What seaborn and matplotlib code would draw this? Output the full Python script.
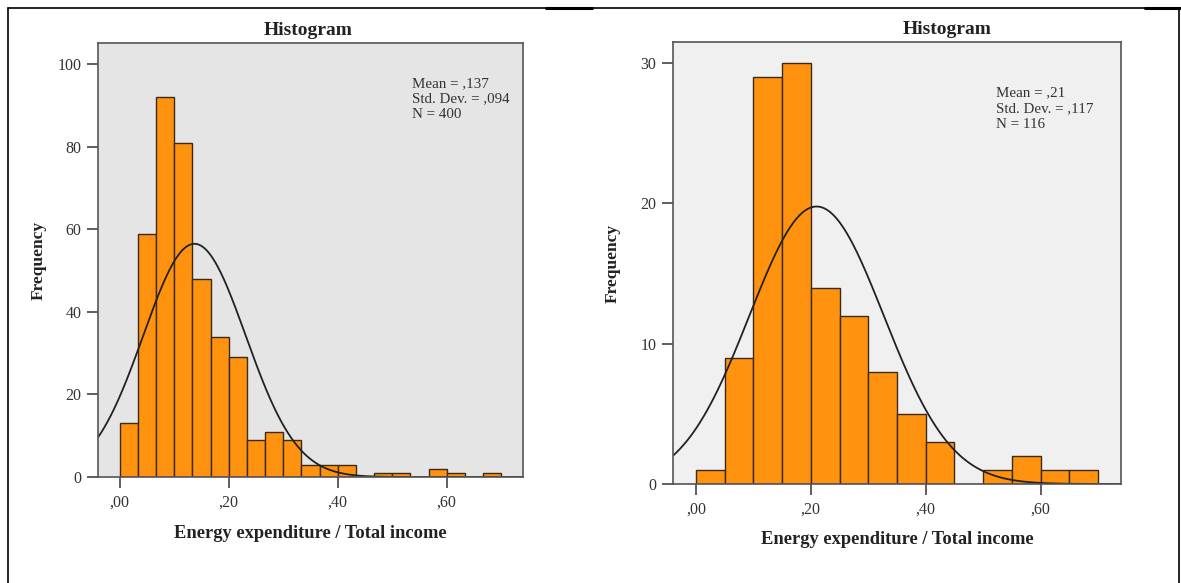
import numpy as np
import pandas as pd
import matplotlib
matplotlib.use("Agg")
import matplotlib.pyplot as plt
from matplotlib.lines import Line2D
from matplotlib.ticker import FuncFormatter
import seaborn as sns

# Histogram bin counts (share of energy expenditure in total income)
left_edges = [round(i / 30, 4) for i in range(22)]
left_counts = [13, 59, 92, 81, 48, 34, 29, 9, 11, 9, 3, 3, 3, 0, 1, 1, 0, 2, 1, 0, 1]
left_mean, left_sd, left_n = 0.137, 0.094, 400

right_edges = [round(i * 0.05, 4) for i in range(15)]
right_counts = [1, 9, 29, 30, 14, 12, 8, 5, 3, 0, 1, 2, 1, 1]
right_mean, right_sd, right_n = 0.21, 0.117, 116

left_stats = ["Mean = ,137", "Std. Dev. = ,094", "N = 400"]
right_stats = ["Mean = ,21", "Std. Dev. = ,117", "N = 116"]
x_ticks = [0.0, 0.2, 0.4, 0.6]

sns.set_theme(style="white")
plt.rcParams["font.family"] = ["Liberation Serif", "DejaVu Serif"]

W, H = 1181, 583
fig = plt.figure(figsize=(W / 100, H / 100), dpi=100)


def frac_box(x0, y0, x1, y1):
    return [x0 / W, 1 - y1 / H, (x1 - x0) / W, (y1 - y0) / H]


def draw_panel(ax, edges, counts, mean, sd, n, stats, ylim, yticks, bg, stats_xy,
               title_x, ylabel_pad, xlabel_pad):
    e = np.asarray(edges)
    centers = list((e[:-1] + e[1:]) / 2)
    width = e[1] - e[0]
    df = pd.DataFrame({"x": centers, "w": counts})
    ax.set_facecolor(bg)
    sns.histplot(data=df, x="x", weights="w", bins=list(edges), ax=ax,
                 color="#FF920F", alpha=1.0, edgecolor="#3b2a18", linewidth=1.0)
    # Normal curve scaled to the histogram counts
    xs = np.linspace(-0.04, 0.74, 400)
    ys = n * width * np.exp(-0.5 * ((xs - mean) / sd) ** 2) / (sd * np.sqrt(2 * np.pi))
    sns.lineplot(x=xs, y=ys, ax=ax, color="#222222", linewidth=1.3)
    ax.set_xlim(-0.04, 0.74)
    ax.set_ylim(*ylim)
    ax.set_xticks(x_ticks)
    ax.xaxis.set_major_formatter(FuncFormatter(lambda v, p: ("%.2f" % v).lstrip("0").replace(".", ",")))
    ax.set_yticks(yticks)
    ax.tick_params(axis="both", direction="out", length=8, width=1.2, color="#444444",
                   labelsize=11.5, labelcolor="#333333", pad=4)
    ax.tick_params(axis="x", pad=5)
    ax.yaxis.set_ticks_position("left")
    ax.xaxis.set_ticks_position("bottom")
    for s in ax.spines.values():
        s.set_visible(True)
        s.set_color("#555555")
        s.set_linewidth(1.2)
    ax.set_xlabel("Energy expenditure / Total income", fontsize=13.3, fontweight="bold",
                  color="#222222", labelpad=xlabel_pad)
    ax.set_ylabel("Frequency", fontsize=12.5, fontweight="bold", color="#222222",
                  labelpad=ylabel_pad)
    ax.set_title("Histogram", fontsize=14, fontweight="bold", color="#222222", pad=6,
                 x=title_x)
    ax.text(stats_xy[0], stats_xy[1], "\n".join(stats), transform=ax.transAxes,
            fontsize=10.8, color="#333333", va="top", ha="left", linespacing=1.28)


ax1 = fig.add_axes(frac_box(98, 43, 523, 477))
draw_panel(ax1, left_edges, left_counts, left_mean, left_sd, left_n, left_stats,
           (0, 105.2), [0, 20, 40, 60, 80, 100], "#E5E5E5", (0.738, 0.922),
           0.495, 8, 10)

ax2 = fig.add_axes(frac_box(673, 42, 1121, 484))
draw_panel(ax2, right_edges, right_counts, right_mean, right_sd, right_n, right_stats,
           (0, 31.5), [0, 10, 20, 30], "#F0F0F0", (0.72, 0.90),
           0.612, 14, 9)

# Table-like frame around the figure
def fig_line(xs, ys, lw):
    fig.add_artist(Line2D([x / W for x in xs], [1 - y / H for y in ys],
                          color="black", linewidth=lw, transform=fig.transFigure))

fig_line([8, 8], [8, 583], 1.2)
fig_line([1179, 1179], [8, 583], 1.2)
fig_line([8, 546], [8, 8], 1.2)
fig_line([546, 592], [8, 8], 2.2)
fig_line([592, 1145], [8, 8], 1.2)
fig_line([1145, 1181], [8, 8], 2.2)

fig.savefig("out.png", dpi=100, facecolor="white")
